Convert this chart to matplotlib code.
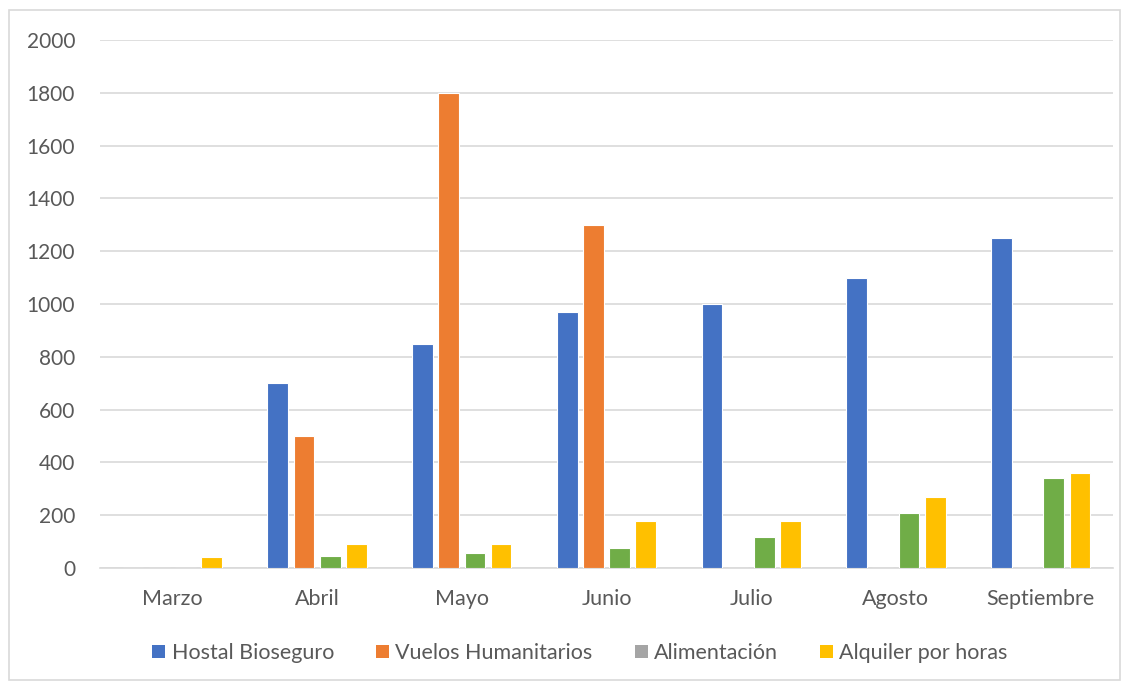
import matplotlib.pyplot as plt
import numpy as np
from matplotlib.patches import Patch, Rectangle

meses = ["Marzo", "Abril", "Mayo", "Junio", "Julio", "Agosto", "Septiembre"]
hostal = [0, 700, 850, 970, 1000, 1100, 1250]
vuelos = [0, 500, 1800, 1300, 0, 0, 0]
alimentacion = [0, 46, 57, 76, 119, 210, 341]
alquiler = [43, 90, 90, 178, 177, 268, 360]

series = ["Hostal Bioseguro", "Vuelos Humanitarios", "Alimentación", "Alquiler por horas"]
bar_colors = ["#4472C4", "#ED7D31", "#70AD47", "#FFC000"]
legend_colors = ["#4472C4", "#ED7D31", "#A5A5A5", "#FFC000"]

plt.rcParams["font.family"] = ["Lato", "DejaVu Sans"]

fig = plt.figure(figsize=(11.28, 6.85), dpi=100)
ax = fig.add_axes([100 / 1128, 1 - 568 / 685, 1013 / 1128, 528 / 685])

x = np.arange(len(meses))
pitch = 0.181
width = 0.143
for i, (vals, col) in enumerate(zip([hostal, vuelos, alimentacion, alquiler], bar_colors)):
    ax.bar(x + (i - 1.5) * pitch, vals, width, color=col, edgecolor="white",
           linewidth=0.8, zorder=3)

ax.set_xlim(-0.5, len(meses) - 0.5)
ax.set_ylim(0, 2000)
ax.set_yticks(range(0, 2001, 200))
ax.set_xticks(x)
ax.set_xticklabels(meses)
ax.tick_params(length=0, colors="#595959")
ax.tick_params(axis="y", pad=18, labelsize=15)
ax.tick_params(axis="x", pad=15, labelsize=15.5)
ax.grid(axis="y", color="#D9D9D9", linewidth=1.2, zorder=0)
for side in ["top", "right", "left"]:
    ax.spines[side].set_visible(False)
ax.spines["bottom"].set_color("#D9D9D9")
ax.spines["bottom"].set_linewidth(1.2)

handles = [Patch(facecolor=c, edgecolor="none") for c in legend_colors]
fig.legend(handles, series, loc="center", bbox_to_anchor=(580 / 1128, 1 - 653 / 685),
           ncol=4, frameon=False, fontsize=15.5, handlelength=0.6, handleheight=0.6,
           handletextpad=0.3, columnspacing=1.95, labelcolor="#595959")

fig.patches.append(Rectangle((9 / 1128, 5 / 685), 1111 / 1128, 670 / 685,
                             transform=fig.transFigure, fill=False,
                             edgecolor="#D9D9D9", linewidth=1.2))

fig.savefig("out.png", dpi=100)
